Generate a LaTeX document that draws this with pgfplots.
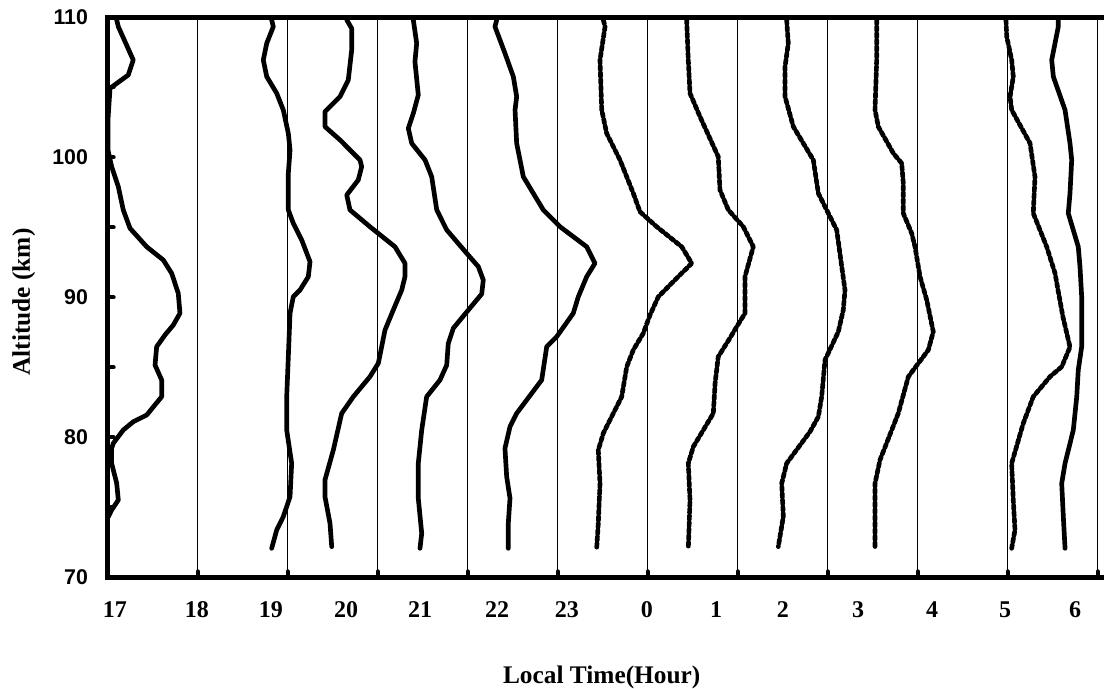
\documentclass[border=0pt]{standalone}
\usepackage{fontspec}
\setmainfont{Liberation Serif}
\setsansfont{Liberation Sans}
\usepackage{pgfplots}
\pgfplotsset{compat=1.18}
\begin{document}
\begin{tikzpicture}
\begin{axis}[
  scale only axis, width=749.25pt, height=420pt,
  xmin=17, xmax=28.1, ymin=70, ymax=110,
  clip=false,
  axis line style={line width=3.75pt},
  xtick={18,19,...,28},
  xticklabels={},
  xmajorgrids,
  major x grid style={line width=0.6pt, black},
  xtick pos=bottom, xtick align=inside,
  xtick style={line width=3pt, line cap=round, black},
  extra x ticks={17.081,17.992,18.814,19.648,20.470,21.326,22.103,22.992,23.759,24.503,25.337,26.159,26.970,27.748},
  extra x tick labels={17,18,19,20,21,22,23,0,1,2,3,4,5,6},
  extra x tick style={grid=none, tick style={draw=none}, major tick length=0pt,
    xticklabel style={font=\fontsize{18}{18}\selectfont\bfseries, anchor=base, inner sep=0pt, yshift=-29.8pt}},
  ytick={70,80,90,100,110}, yticklabels={70,80,90,100,110},
  minor ytick={75,85,95,105},
  ytick pos=left, ytick align=inside,
  ytick style={line width=3pt, line cap=round, black},
  major tick length=4.5pt, minor tick length=4.5pt,
  yticklabel style={font=\fontsize{16}{16}\sffamily\bfseries, anchor=east, inner sep=0pt, xshift=-14.6pt},
  xlabel={Local Time(Hour)}, ylabel={Altitude (km)},
  xlabel style={font=\fontsize{19}{19}\selectfont\bfseries, at={(axis description cs:0.4945,-0.1905)}, anchor=base, inner sep=0pt},
  ylabel style={font=\fontsize{19}{19}\selectfont\bfseries, at={(axis description cs:-0.0778,0.4916)}, anchor=base, inner sep=0pt},
  every axis plot post/.append style={black, mark=none, line width=3.5pt, line join=round, line cap=round},
]
% 17 h
\addplot coordinates {(17.100,109.81) (17.118,109.33) (17.284,106.95) (17.229,105.88) (17.026,104.93) (17.003,102.66) (17.003,100.52) (17.044,99.33) (17.118,97.90) (17.173,96.24) (17.248,94.93) (17.433,93.61) (17.618,92.66) (17.711,91.71) (17.784,90.29) (17.803,88.86) (17.729,88.02) (17.637,87.31) (17.544,86.47) (17.526,85.16) (17.600,84.09) (17.600,82.90) (17.433,81.59) (17.284,81.11) (17.173,80.52) (17.062,79.57) (17.044,79.21) (17.044,78.14) (17.100,76.71) (17.118,75.52) (17.044,74.81) (17.007,74.33)};
% 19 h
\addplot coordinates {(18.822,109.81) (18.840,109.33) (18.767,108.14) (18.729,106.95) (18.767,105.76) (18.878,104.57) (18.951,103.38) (19.007,101.71) (19.026,100.52) (19.007,98.86) (19.007,96.24) (19.062,95.29) (19.156,94.09) (19.248,92.54) (19.229,91.47) (19.137,90.52) (19.062,90.04) (19.026,88.86) (19.007,85.76) (18.989,82.90) (18.989,80.52) (19.044,78.14) (19.026,75.76) (18.951,74.33) (18.878,73.38) (18.822,72.07)};
% 20 h
\addplot coordinates {(19.656,109.81) (19.711,109.21) (19.711,107.66) (19.673,105.52) (19.581,104.33) (19.414,103.26) (19.414,102.19) (19.581,101.24) (19.803,99.81) (19.822,99.33) (19.784,98.38) (19.656,97.31) (19.692,96.24) (19.914,95.04) (20.192,93.61) (20.303,92.43) (20.303,91.47) (20.267,90.52) (20.173,89.09) (20.081,87.66) (20.007,85.29) (19.914,84.33) (19.729,82.90) (19.600,81.71) (19.507,79.09) (19.414,76.95) (19.414,75.76) (19.470,73.86) (19.489,72.19)};
% 21 h
\addplot coordinates {(20.396,109.81) (20.433,108.14) (20.414,106.83) (20.451,104.45) (20.396,103.14) (20.340,102.07) (20.378,101.00) (20.526,99.81) (20.600,98.61) (20.656,96.24) (20.767,94.81) (20.989,93.14) (21.118,92.19) (21.173,91.24) (21.156,90.24) (21.007,89.09) (20.840,87.79) (20.784,86.71) (20.767,85.16) (20.692,84.09) (20.544,82.90) (20.489,80.52) (20.451,78.14) (20.451,75.64) (20.489,73.14) (20.470,72.07)};
% 22 h
\addplot coordinates {(21.322,109.81) (21.303,109.33) (21.414,107.43) (21.507,105.76) (21.544,104.33) (21.526,103.38) (21.544,101.00) (21.618,98.61) (21.840,96.24) (22.026,95.04) (22.322,93.61) (22.414,92.43) (22.322,91.47) (22.229,90.04) (22.173,88.86) (21.989,87.19) (21.878,86.47) (21.822,84.09) (21.544,81.71) (21.470,80.76) (21.414,79.21) (21.433,77.19) (21.470,75.64) (21.451,73.86) (21.451,72.07)};
% 23 h
\addplot coordinates {(22.507,109.81) (22.526,109.33) (22.470,106.95) (22.489,103.38) (22.544,101.71) (22.692,99.81) (22.840,97.43) (22.914,96.11) (23.100,95.04) (23.378,93.61) (23.489,92.43) (23.303,91.24) (23.118,90.04) (23.026,88.74) (22.951,87.43) (22.840,86.24) (22.767,85.04) (22.711,82.90) (22.618,81.71) (22.507,80.29) (22.451,79.09) (22.470,76.71) (22.451,73.86) (22.433,72.07)};
% 0 h
\addplot coordinates {(23.433,109.81) (23.451,106.95) (23.470,104.57) (23.581,102.90) (23.784,100.04) (23.803,97.66) (23.896,96.24) (24.062,95.04) (24.173,93.61) (24.081,91.47) (24.081,88.86) (23.989,87.90) (23.914,87.09) (23.784,85.76) (23.749,83.89) (23.729,81.71) (23.507,79.33) (23.451,78.14) (23.470,75.52) (23.451,72.07)};
% 1 h
\addplot coordinates {(24.544,109.81) (24.562,108.14) (24.526,106.47) (24.526,104.33) (24.618,102.19) (24.840,99.81) (24.896,97.43) (25.007,96.00) (25.100,94.81) (25.156,92.19) (25.192,90.52) (25.173,89.09) (25.118,87.54) (24.970,85.52) (24.933,82.90) (24.896,81.47) (24.803,80.40) (24.544,78.14) (24.489,76.71) (24.507,74.33) (24.451,72.19)};
% 2 h
\addplot coordinates {(25.544,109.81) (25.544,106.95) (25.526,103.38) (25.562,102.19) (25.729,100.29) (25.822,99.57) (25.840,98.14) (25.840,96.00) (25.933,94.57) (25.970,93.61) (26.026,91.47) (26.100,89.81) (26.173,87.54) (26.118,86.24) (25.896,84.33) (25.784,81.71) (25.581,78.38) (25.526,76.71) (25.526,74.33) (25.526,72.07)};
% 5 h
\addplot coordinates {(26.981,109.81) (26.989,108.61) (27.044,106.95) (27.062,105.76) (27.026,104.33) (27.044,103.38) (27.248,101.00) (27.303,98.61) (27.284,96.00) (27.433,93.61) (27.526,91.71) (27.559,90.52) (27.614,88.59) (27.692,86.45) (27.600,85.04) (27.470,84.33) (27.284,82.90) (27.173,81.00) (27.044,78.14) (27.062,75.52) (27.081,73.38) (27.044,72.07)};
% 6 h
\addplot coordinates {(27.562,109.81) (27.562,109.33) (27.489,106.95) (27.507,105.76) (27.637,103.38) (27.692,101.00) (27.711,99.81) (27.692,97.43) (27.673,96.00) (27.784,93.61) (27.803,92.19) (27.822,90.04) (27.822,86.47) (27.784,84.81) (27.767,82.90) (27.729,80.52) (27.637,78.14) (27.600,76.71) (27.618,74.33) (27.637,72.07)};
\coordinate (BL) at (rel axis cs:-0.10781,-0.19946);
\coordinate (TR) at (rel axis cs:0.99730,1.03089);
\end{axis}
\pgfresetboundingbox
\useasboundingbox (BL) rectangle (TR);
\end{tikzpicture}
\end{document}
